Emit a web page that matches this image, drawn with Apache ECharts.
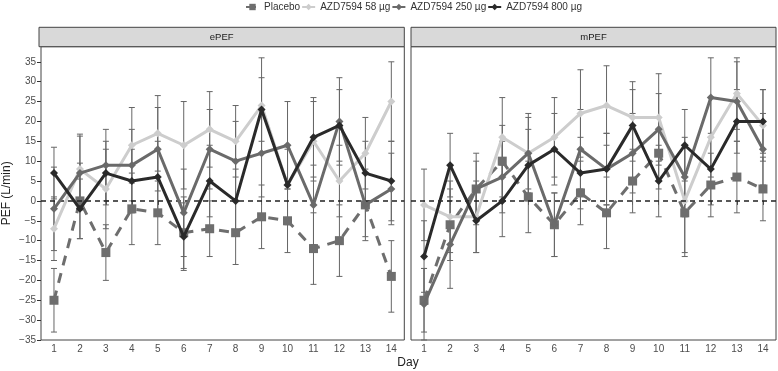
<!DOCTYPE html>
<html style="height: 100%">
<head>
<meta charset="utf-8">
</head>
<body style="height: 100%; margin: 0; background: #fff">
<div id="container" style="width: 778px; height: 371px"></div>
<script src="https://cdn.jsdelivr.net/npm/echarts@6/dist/echarts.min.js"></script>
<script>
var days = [1, 2, 3, 4, 5, 6, 7, 8, 9, 10, 11, 12, 13, 14];
var yTicks = [-35, -30, -25, -20, -15, -10, -5, 0, 5, 10, 15, 20, 25, 30, 35];
var seriesNames = ['Placebo', 'AZD7594 58 µg', 'AZD7594 250 µg', 'AZD7594 800 µg'];
var panels = ['ePEF', 'mPEF'];

// ePEF: mean change and half-width of error bar
var ePlacebo = [-25, 0, -13, -2, -3, -8, -7, -8, -4, -5, -12, -10, -1, -19];
var e58 = [-7, 8, 3, 14, 17, 14, 18, 15, 24, 4, 15, 5, 12, 25];
var e250 = [-2, 7, 9, 9, 13, -3, 13, 10, 12, 14, -1, 20, -1, 3];
var e800 = [7, -2, 7, 5, 6, -9, 5, 0, 23, 4, 16, 19, 7, 5];
var ePlaceboErr = [8, 9.5, 7, 9, 8, 9, 7, 8, 8, 8, 9, 9, 8, 9];
var e58Err = [8, 8.8, 10, 9.5, 9.5, 11, 9.5, 9, 12, 9, 10, 9, 9, 10];
var e250Err = [10.5, 9.3, 9, 9, 10.5, 11, 10, 10, 11, 11, 10, 11, 9, 9];
var e800Err = [6.5, 7.5, 8, 8, 9, 8.5, 9, 8, 8, 10, 10, 9, 8, 10];

// mPEF
var mPlacebo = [-25, -6, 3, 10, 1, -6, 2, -3, 5, 12, -3, 4, 6, 3];
var m58 = [-1, -4, -4, 16, 12, 16, 22, 24, 21, 21, 0, 16, 27, 19];
var m250 = [-26, -11, 3, 6, 12, -6, 13, 8, 12, 18, 6, 26, 25, 13];
var m800 = [-14, 9, -5, 0, 9, 13, 7, 8, 19, 5, 14, 8, 20, 20];
var mPlaceboErr = [8, 9, 7, 9, 9, 8, 8, 9, 8, 9, 10, 8, 9, 8];
var m58Err = [9, 9, 9, 10, 10, 10, 11, 10, 9, 11, 14, 10, 9, 9];
var m250Err = [9, 11, 9, 9, 9, 8, 10, 9, 10, 9, 10, 10, 10, 9];
var m800Err = [9, 8, 8, 9, 9, 9, 9, 9, 9, 9, 9, 9, 8, 8];

var colors = ['#6e6e6e', '#cdcdcd', '#6a6a6a', '#2a2a2a'];
var symbols = ['rect', 'diamond', 'diamond', 'diamond'];
var symbolSizes = [9, 8, 8, 8];
var font = 'Liberation Sans, Arial, sans-serif';

var panelData = [
    {means: [ePlacebo, e58, e250, e800], errs: [ePlaceboErr, e58Err, e250Err, e800Err]},
    {means: [mPlacebo, m58, m250, m800], errs: [mPlaceboErr, m58Err, m250Err, m800Err]}
];

var dom = document.getElementById('container');
var myChart = echarts.init(dom, null, {renderer: 'canvas'});

var grids = [
    {left: 39, top: 46.7, width: 365.3, height: 293.3},
    {left: 411, top: 46.7, width: 365, height: 293.3}
];

function errorBars(gi, means, errs) {
    return {
        type: 'custom',
        xAxisIndex: gi,
        yAxisIndex: gi,
        z: 1,
        silent: true,
        data: means.map(function (m, i) { return [days[i], m - errs[i], m + errs[i]]; }),
        encode: {x: 0, y: [1, 2]},
        renderItem: function (params, api) {
            var lo = api.coord([api.value(0), api.value(1)]);
            var hi = api.coord([api.value(0), api.value(2)]);
            var w = 3;
            var st = {stroke: '#666', lineWidth: 1};
            return {
                type: 'group',
                children: [
                    {type: 'line', shape: {x1: lo[0], y1: lo[1], x2: hi[0], y2: hi[1]}, style: st},
                    {type: 'line', shape: {x1: lo[0] - w, y1: lo[1], x2: lo[0] + w, y2: lo[1]}, style: st},
                    {type: 'line', shape: {x1: hi[0] - w, y1: hi[1], x2: hi[0] + w, y2: hi[1]}, style: st}
                ]
            };
        }
    };
}

var xAxes = [], yAxes = [], series = [], graphics = [];

grids.forEach(function (g, gi) {
    xAxes.push({
        type: 'value', gridIndex: gi, min: 0.5, max: 14.5,
        axisLine: {show: false},
        splitLine: {show: false},
        axisTick: {show: true, length: 4, lineStyle: {color: '#333'}, customValues: days},
        axisLabel: {fontSize: 10, color: '#4d4d4d', fontFamily: font, margin: 4, customValues: days}
    });
    yAxes.push({
        type: 'value', gridIndex: gi, min: -35, max: 38.8,
        name: gi === 0 ? 'PEF (L/min)' : '',
        nameLocation: 'middle', nameGap: 28,
        nameTextStyle: {fontSize: 12, color: '#222', fontFamily: font},
        axisLine: {show: false},
        splitLine: {show: false},
        axisTick: {show: gi === 0, length: 4, lineStyle: {color: '#333'}, customValues: yTicks},
        axisLabel: {
            show: gi === 0, fontSize: 10, color: '#4d4d4d', fontFamily: font, margin: 5,
            customValues: yTicks,
            formatter: function (v) { return v < 0 ? '\u2212' + Math.abs(v) : String(v); }
        }
    });

    var pd = panelData[gi];
    for (var s = 0; s < 4; s++) {
        series.push(errorBars(gi, pd.means[s], pd.errs[s]));
    }
    for (var s2 = 0; s2 < 4; s2++) {
        var ser = {
            name: seriesNames[s2],
            type: 'line',
            xAxisIndex: gi,
            yAxisIndex: gi,
            z: 3 + s2,
            data: pd.means[s2].map(function (v, i) { return [days[i], v]; }),
            symbol: symbols[s2],
            symbolSize: symbolSizes[s2],
            itemStyle: {color: colors[s2]},
            lineStyle: {color: colors[s2], width: 3, type: s2 === 0 ? [10, 8] : 'solid'},
            animation: false
        };
        if (s2 === 0) {
            ser.markLine = {
                silent: true, symbol: 'none', label: {show: false},
                lineStyle: {color: '#222', width: 1.5, type: [5, 4]},
                data: [{yAxis: 0}],
                animation: false
            };
        }
        series.push(ser);
    }

    // facet strip
    graphics.push({
        type: 'rect',
        shape: {x: g.left, y: 27.3, width: g.width, height: 19.4},
        style: {fill: '#d9d9d9', stroke: '#444', lineWidth: 1}
    });
    graphics.push({
        type: 'text',
        x: g.left + g.width / 2, y: 37,
        style: {text: panels[gi], fill: '#1a1a1a', font: '9.5px ' + font, align: 'center', verticalAlign: 'middle'}
    });
});

graphics.push({
    type: 'text', x: 408, y: 363,
    style: {text: 'Day', fill: '#222', font: '12px ' + font, align: 'center', verticalAlign: 'middle'}
});

option = {
    backgroundColor: '#fff',
    animation: false,
    textStyle: {fontFamily: font},
    legend: {
        data: seriesNames,
        left: 245, top: 2,
        itemWidth: 13, itemHeight: 8, itemGap: 1,
        padding: 0,
        textStyle: {fontSize: 10, color: '#333', fontFamily: font}
    },
    grid: grids.map(function (g) {
        return {left: g.left, top: g.top, width: g.width, height: g.height, show: true,
            borderColor: '#444', borderWidth: 1, backgroundColor: '#fff'};
    }),
    xAxis: xAxes,
    yAxis: yAxes,
    series: series,
    graphic: graphics
};

if (option && typeof option === 'object') {
    myChart.setOption(option, true);
}
</script>
</body>
</html>
